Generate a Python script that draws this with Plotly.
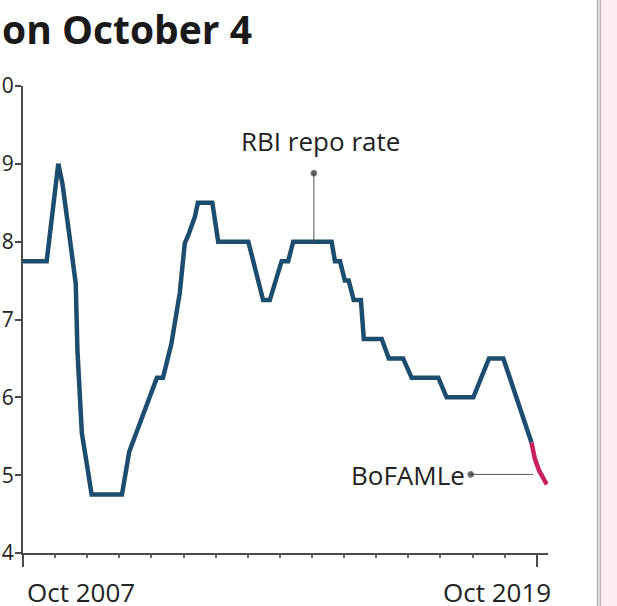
import plotly.graph_objects as go

# RBI policy repo rate (%), vertices of the line
repo_dates = [
    "2007-10-01", "2008-04-20", "2008-07-28", "2008-09-01", "2008-10-28",
    "2008-12-24", "2009-01-07", "2009-02-14", "2009-04-01", "2009-05-08",
    "2010-01-22", "2010-03-25", "2010-11-16", "2011-01-07", "2011-03-20",
    "2011-05-30", "2011-07-12", "2011-08-10", "2011-10-06", "2011-11-01",
    "2012-03-03", "2012-04-22", "2013-01-04", "2013-05-10", "2013-07-06",
    "2013-10-15", "2013-12-10", "2014-01-22", "2014-12-15", "2015-01-13",
    "2015-02-25", "2015-04-07", "2015-05-10", "2015-06-22", "2015-08-22",
    "2015-09-16", "2016-02-16", "2016-04-16", "2016-08-16", "2016-10-28",
    "2017-06-13", "2017-08-22", "2018-04-07", "2018-08-19", "2018-12-19",
    "2019-04-10", "2019-08-16",
]
repo_rate = [
    7.75, 7.75, 9.0, 8.75, 8.11,
    7.46, 6.61, 5.54, 5.11, 4.75,
    4.75, 5.3, 6.25, 6.25, 6.69,
    7.34, 7.98, 8.08, 8.32, 8.5,
    8.5, 8.0, 8.0, 7.25, 7.25,
    7.75, 7.75, 8.0, 8.0, 7.75,
    7.75, 7.5, 7.5, 7.25, 7.25,
    6.75, 6.75, 6.5, 6.5, 6.25,
    6.25, 6.0, 6.0, 6.5, 6.5,
    6.0, 5.42,
]

# BoFAML expected path
bofaml_dates = ["2019-08-16", "2019-09-14", "2019-10-20", "2019-12-25"]
bofaml_rate = [5.42, 5.21, 5.06, 4.88]

y_ticks = [4, 5, 6, 7, 8, 9, 10]
x_tick_dates = ["2007-10-01", "2019-10-01"]
x_tick_text = ["Oct 2007", "Oct 2019"]

# leader lines for the two labels
rbi_leader_x = ["2014-07-17", "2014-07-17"]
rbi_leader_y = [8.0, 8.88]
bofaml_leader_x = ["2018-03-16", "2019-09-01"]
bofaml_leader_y = [5.01, 5.01]

FONT = "Open Sans"
TEXT = "#222222"
AXIS = "#4a4a4a"

fig = go.Figure()

fig.add_trace(go.Scatter(
    x=repo_dates, y=repo_rate, mode="lines",
    line=dict(color="#1b4d6e", width=4.5),
    hoverinfo="skip",
))
fig.add_trace(go.Scatter(
    x=bofaml_dates, y=bofaml_rate, mode="lines",
    line=dict(color="#c8215d", width=4.5),
    hoverinfo="skip",
))
fig.add_trace(go.Scatter(
    x=rbi_leader_x, y=rbi_leader_y, mode="lines+markers",
    line=dict(color="#555555", width=1),
    marker=dict(size=[0, 6], color="#222222"),
    hoverinfo="skip",
))
fig.add_trace(go.Scatter(
    x=bofaml_leader_x, y=bofaml_leader_y, mode="lines+markers",
    line=dict(color="#555555", width=1),
    marker=dict(size=[6, 0], color="#222222"),
    hoverinfo="skip",
))

annotations = [
    dict(text="<b>on October 4</b>", xref="paper", yref="paper",
         x=-0.0438, y=1.124, xanchor="left", yanchor="middle",
         showarrow=False, font=dict(family=FONT, size=39, color="#1a1a1a")),
    dict(text="RBI repo rate", x="2014-09-15", y=9.29,
         xanchor="center", yanchor="middle", showarrow=False,
         font=dict(family=FONT, size=26, color=TEXT)),
    dict(text="BoFAMLe", x="2018-02-12", y=5.0,
         xanchor="right", yanchor="middle", showarrow=False,
         font=dict(family=FONT, size=26, color=TEXT)),
]
for d, t, anchor, shift in zip(x_tick_dates, x_tick_text, ["left", "right"], [2, 16]):
    annotations.append(dict(
        text=t, x=d, xref="x", yref="paper", y=-0.0835,
        xanchor=anchor, yanchor="middle", xshift=shift, showarrow=False,
        font=dict(family=FONT, size=26, color=TEXT),
    ))

shapes = [
    # side panel at the right edge
    dict(type="rect", xref="paper", yref="paper", x0=1.101, x1=1.2, y0=-0.2, y1=1.3,
         fillcolor="#fdecef", line=dict(width=0), layer="below"),
    dict(type="line", xref="paper", yref="paper", x0=1.0945, x1=1.0945, y0=-0.2, y1=1.3,
         line=dict(color="#a9a9a9", width=1.5)),
    dict(type="line", xref="paper", yref="paper", x0=1.0995, x1=1.0995, y0=-0.2, y1=1.3,
         line=dict(color="#b5b5b5", width=1.5)),
]

fig.update_layout(
    width=617, height=606, autosize=False,
    margin=dict(l=23, r=69, t=86, b=53),
    paper_bgcolor="white", plot_bgcolor="white",
    showlegend=False,
    font=dict(family=FONT, color=TEXT),
    annotations=annotations,
    shapes=shapes,
)

fig.update_xaxes(
    type="date", range=["2007-10-01", "2020-01-04"], automargin=False,
    tickmode="array", tickvals=x_tick_dates, showticklabels=False,
    ticks="outside", ticklen=12, tickwidth=2, tickcolor=AXIS,
    showline=True, linecolor=AXIS, linewidth=2,
    showgrid=False, zeroline=False,
    minor=dict(dtick="M9", tick0="2007-10-01", ticks="outside",
               ticklen=3, tickwidth=1.5, tickcolor="#666666", showgrid=False),
)
fig.update_yaxes(
    range=[4, 10], tickmode="array", tickvals=y_ticks, automargin=False,
    ticks="outside", ticklen=6, tickwidth=1.5, tickcolor=AXIS,
    ticklabelstandoff=-3,
    showline=True, linecolor=AXIS, linewidth=2,
    showgrid=False, zeroline=False,
    tickfont=dict(family=FONT, size=21, color=TEXT),
)

fig.write_html("out.html")
